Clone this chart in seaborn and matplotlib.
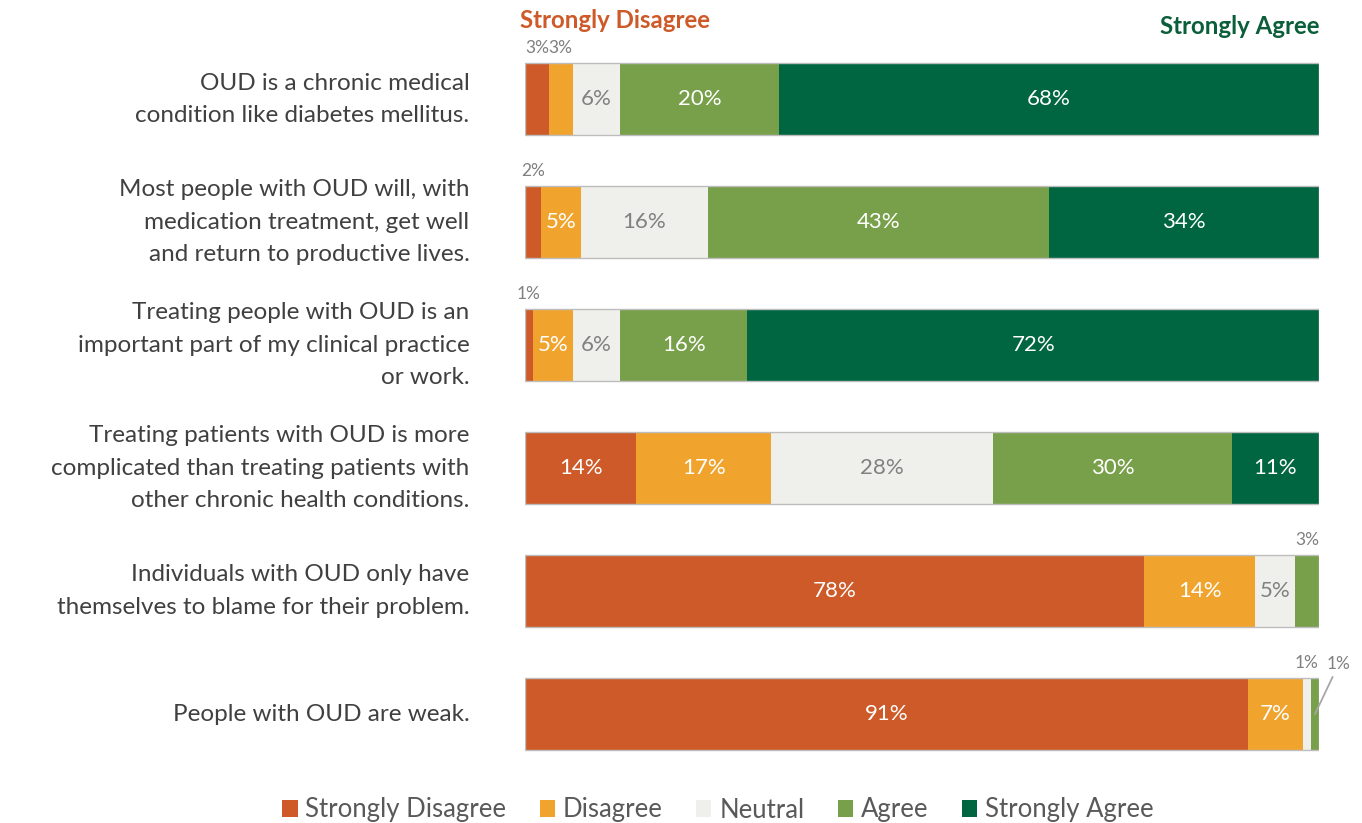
import pandas as pd
import matplotlib.pyplot as plt
import seaborn as sns
from matplotlib.patches import Patch

# Survey statements and response shares (%)
statements = [
    'OUD is a chronic medical\ncondition like diabetes mellitus.',
    'Most people with OUD will, with\nmedication treatment, get well\nand return to productive lives.',
    'Treating people with OUD is an\nimportant part of my clinical practice\nor work.',
    'Treating patients with OUD is more\ncomplicated than treating patients with\nother chronic health conditions.',
    'Individuals with OUD only have\nthemselves to blame for their problem.',
    'People with OUD are weak.',
]
levels = ['Strongly Disagree', 'Disagree', 'Neutral', 'Agree', 'Strongly Agree']
strongly_disagree = [3, 2, 1, 14, 78, 91]
disagree = [3, 5, 5, 17, 14, 7]
neutral = [6, 16, 6, 28, 5, 1]
agree = [20, 43, 16, 30, 3, 1]
strongly_agree = [68, 34, 72, 11, 0, 0]
colors = ['#CD5A28', '#F0A42E', '#EFEFEB', '#78A04A', '#006641']

df = pd.DataFrame({
    'Statement': statements,
    'Strongly Disagree': strongly_disagree,
    'Disagree': disagree,
    'Neutral': neutral,
    'Agree': agree,
    'Strongly Agree': strongly_agree,
})
cum = df[levels].cumsum(axis=1)

sns.set_theme(style='white')
plt.rcParams['font.family'] = ['Lato', 'DejaVu Sans']

fig = plt.figure(figsize=(13.62, 8.23), dpi=100)
ax = fig.add_axes([0.3855, 0.0577, 0.5829, 0.8967])

bar_w = 0.585
# stacked bars: draw cumulative totals from the right-most level down
for level, color in reversed(list(zip(levels, colors))):
    sns.barplot(x=cum[level], y=df['Statement'], orient='h', color=color,
                saturation=1, width=bar_w, linewidth=0, ax=ax)
# thin outline around each whole bar
sns.barplot(x=cum['Strongly Agree'], y=df['Statement'], orient='h', color='#BDBDBD',
            fill=False, width=bar_w, linewidth=1, ax=ax)

ax.set_xlim(0, 100)
ax.set_ylim(5.5, -0.5)
ax.set_xlabel('')
ax.set_ylabel('')
ax.set_xticks([])
sns.despine(ax=ax, left=True, bottom=True)
ax.tick_params(axis='y', length=0, pad=40, labelsize=17.5, labelcolor='#404040')
for lab in ax.get_yticklabels():
    lab.set_linespacing(1.65)
    lab.set_verticalalignment('center')

gray = '#808080'
for i in range(len(df)):
    last_small = None
    for level in levels:
        v = df[level].iloc[i]
        if v == 0:
            continue
        center = cum[level].iloc[i] - v / 2
        if v <= 3:
            if last_small is not None and center - last_small < 2.5:
                ax.annotate(f'{v}%', xy=(center, i), xytext=(17, 30),
                            textcoords='offset points', ha='center', va='bottom',
                            fontsize=12.5, color=gray,
                            arrowprops=dict(arrowstyle='-', color='#A6A6A6', lw=1.3,
                                            shrinkA=1, shrinkB=0))
            else:
                ax.annotate(f'{v}%', xy=(center, i - bar_w / 2), xytext=(0, 5),
                            textcoords='offset points', ha='center', va='bottom',
                            fontsize=12.5, color=gray)
            last_small = center
        else:
            tcol = gray if level == 'Neutral' else 'white'
            ax.text(center, i, f'{v}%', ha='center', va='center', fontsize=16, color=tcol)

fig.text(520 / 1362, 1 - 21 / 823, 'Strongly Disagree', ha='left', va='center',
         fontsize=17.3, fontweight='bold', color='#CD5A28')
fig.text(1319 / 1362, 1 - 27 / 823, 'Strongly Agree', ha='right', va='center',
         fontsize=17.3, fontweight='bold', color='#0B5E3A')

handles = [Patch(facecolor=c, edgecolor='none') for c in colors]
fig.legend(handles, levels, loc='center', bbox_to_anchor=(0.527, 1 - 810 / 823), ncol=5,
           frameon=False, fontsize=18.5, handlelength=0.6, handleheight=0.6,
           handletextpad=0.3, columnspacing=1.3, labelcolor='#595959')

fig.savefig('out.png', dpi=100)
